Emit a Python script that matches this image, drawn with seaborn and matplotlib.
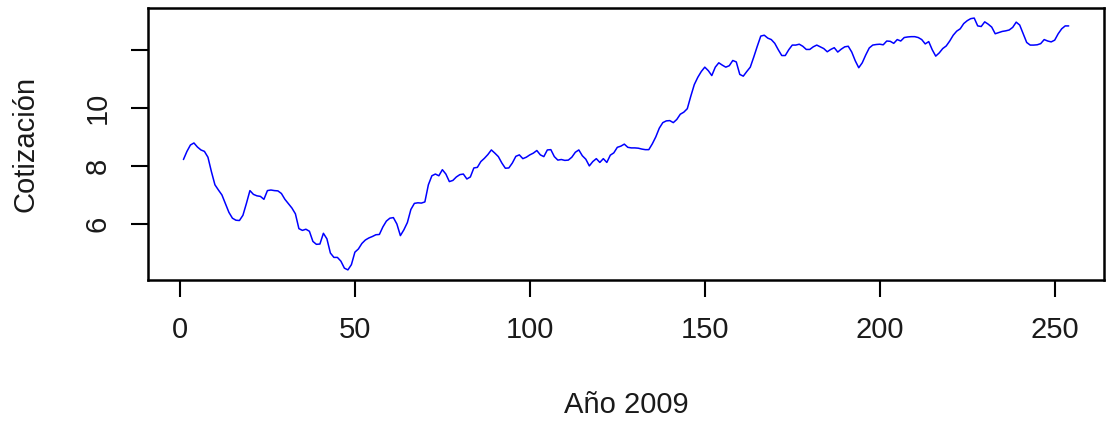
import numpy as np
import pandas as pd
import matplotlib
matplotlib.use("Agg")
import matplotlib.pyplot as plt
import seaborn as sns

# Daily quotes, 2009, split in segments
cot_1_50 = [8.22, 8.5, 8.72, 8.79, 8.65, 8.55, 8.5, 8.3, 7.8, 7.35,
            7.17, 7.0, 6.7, 6.4, 6.2, 6.13, 6.12, 6.3, 6.71, 7.15,
            7.02, 6.97, 6.95, 6.85, 7.15, 7.17, 7.15, 7.14, 7.05, 6.85,
            6.7, 6.55, 6.35, 5.84, 5.78, 5.82, 5.75, 5.4, 5.3, 5.31,
            5.68, 5.49, 5.0, 4.85, 4.85, 4.72, 4.48, 4.42, 4.6, 5.03]
cot_51_100 = [5.14, 5.33, 5.45, 5.52, 5.57, 5.63, 5.64, 5.9, 6.1, 6.2,
              6.22, 6.0, 5.6, 5.8, 6.05, 6.5, 6.71, 6.73, 6.72, 6.76,
              7.35, 7.66, 7.72, 7.66, 7.87, 7.72, 7.46, 7.5, 7.62, 7.7,
              7.72, 7.55, 7.62, 7.93, 7.95, 8.15, 8.26, 8.39, 8.55, 8.44,
              8.32, 8.1, 7.92, 7.93, 8.1, 8.33, 8.38, 8.25, 8.3, 8.38]
cot_101_150 = [8.44, 8.53, 8.38, 8.32, 8.55, 8.56, 8.32, 8.2, 8.22, 8.19,
               8.2, 8.3, 8.47, 8.55, 8.35, 8.23, 8.0, 8.15, 8.25, 8.12,
               8.25, 8.12, 8.37, 8.45, 8.64, 8.68, 8.75, 8.64, 8.62, 8.62,
               8.61, 8.58, 8.56, 8.56, 8.76, 9.0, 9.3, 9.49, 9.55, 9.56,
               9.49, 9.6, 9.78, 9.85, 9.97, 10.4, 10.8, 11.05, 11.25, 11.4]
cot_151_200 = [11.28, 11.11, 11.4, 11.55, 11.47, 11.4, 11.45, 11.63, 11.58, 11.15,
               11.09, 11.25, 11.4, 11.75, 12.12, 12.47, 12.5, 12.4, 12.35, 12.22,
               12.0, 11.8, 11.8, 12.0, 12.16, 12.16, 12.19, 12.12, 12.01, 12.01,
               12.1, 12.16, 12.1, 12.04, 11.93, 12.01, 12.07, 11.92, 12.02, 12.1,
               12.12, 11.92, 11.62, 11.38, 11.55, 11.82, 12.06, 12.16, 12.18, 12.19]
cot_201_254 = [12.17, 12.3, 12.29, 12.22, 12.35, 12.3, 12.42, 12.44, 12.45, 12.45,
               12.42, 12.35, 12.2, 12.28, 12.0, 11.78, 11.89, 12.04, 12.13, 12.3,
               12.5, 12.64, 12.72, 12.9, 13.0, 13.07, 13.09, 12.82, 12.8, 12.96,
               12.88, 12.78, 12.55, 12.59, 12.63, 12.65, 12.68, 12.77, 12.95, 12.85,
               12.55, 12.25, 12.16, 12.16, 12.17, 12.21, 12.35, 12.3, 12.27, 12.33,
               12.55, 12.72, 12.82, 12.82]

x_ticks = [0, 50, 100, 150, 200, 250]
x_tick_labels = ["0", "50", "100", "150", "200", "250"]
y_ticks = [6, 8, 10, 12]
y_tick_labels = ["6", "8", "10", ""]

values = cot_1_50 + cot_51_100 + cot_101_150 + cot_151_200 + cot_201_254
df = pd.DataFrame({"dia": np.arange(1, len(values) + 1), "cotizacion": values})

sns.set_theme(style="white")
plt.rcParams["font.family"] = ["Liberation Sans", "DejaVu Sans"]

fig = plt.figure(figsize=(11.13, 4.21), dpi=100)
ax = fig.add_axes([0.133, 0.335, 0.859, 0.646])

sns.lineplot(data=df, x="dia", y="cotizacion", ax=ax, color="#0000FF",
             linewidth=1.1, estimator=None)

# R-like 4% padding
xmin, xmax = df["dia"].min(), df["dia"].max()
ymin, ymax = df["cotizacion"].min(), df["cotizacion"].max()
dx, dy = 0.04 * (xmax - xmin), 0.04 * (ymax - ymin)
ax.set_xlim(xmin - dx, xmax + dx)
ax.set_ylim(ymin - dy, ymax + dy)

ax.set_xticks(x_ticks)
ax.set_xticklabels(x_tick_labels)
ax.set_yticks(y_ticks)
ax.set_yticklabels(y_tick_labels, rotation=90, va="center")

fs = 21
ax.tick_params(axis="both", which="both", direction="out", length=12, width=1.5,
               color="black", labelsize=fs, labelcolor="#1a1a1a", pad=14,
               bottom=True, left=True)
for sp in ax.spines.values():
    sp.set_visible(True)
    sp.set_color("black")
    sp.set_linewidth(1.8)

ax.set_xlabel("Año 2009", fontsize=fs, color="#1a1a1a", labelpad=34)
ax.set_ylabel("Cotización", fontsize=fs, color="#1a1a1a", labelpad=32)
ax.grid(False)

fig.savefig("out.png", dpi=100, facecolor="white")
